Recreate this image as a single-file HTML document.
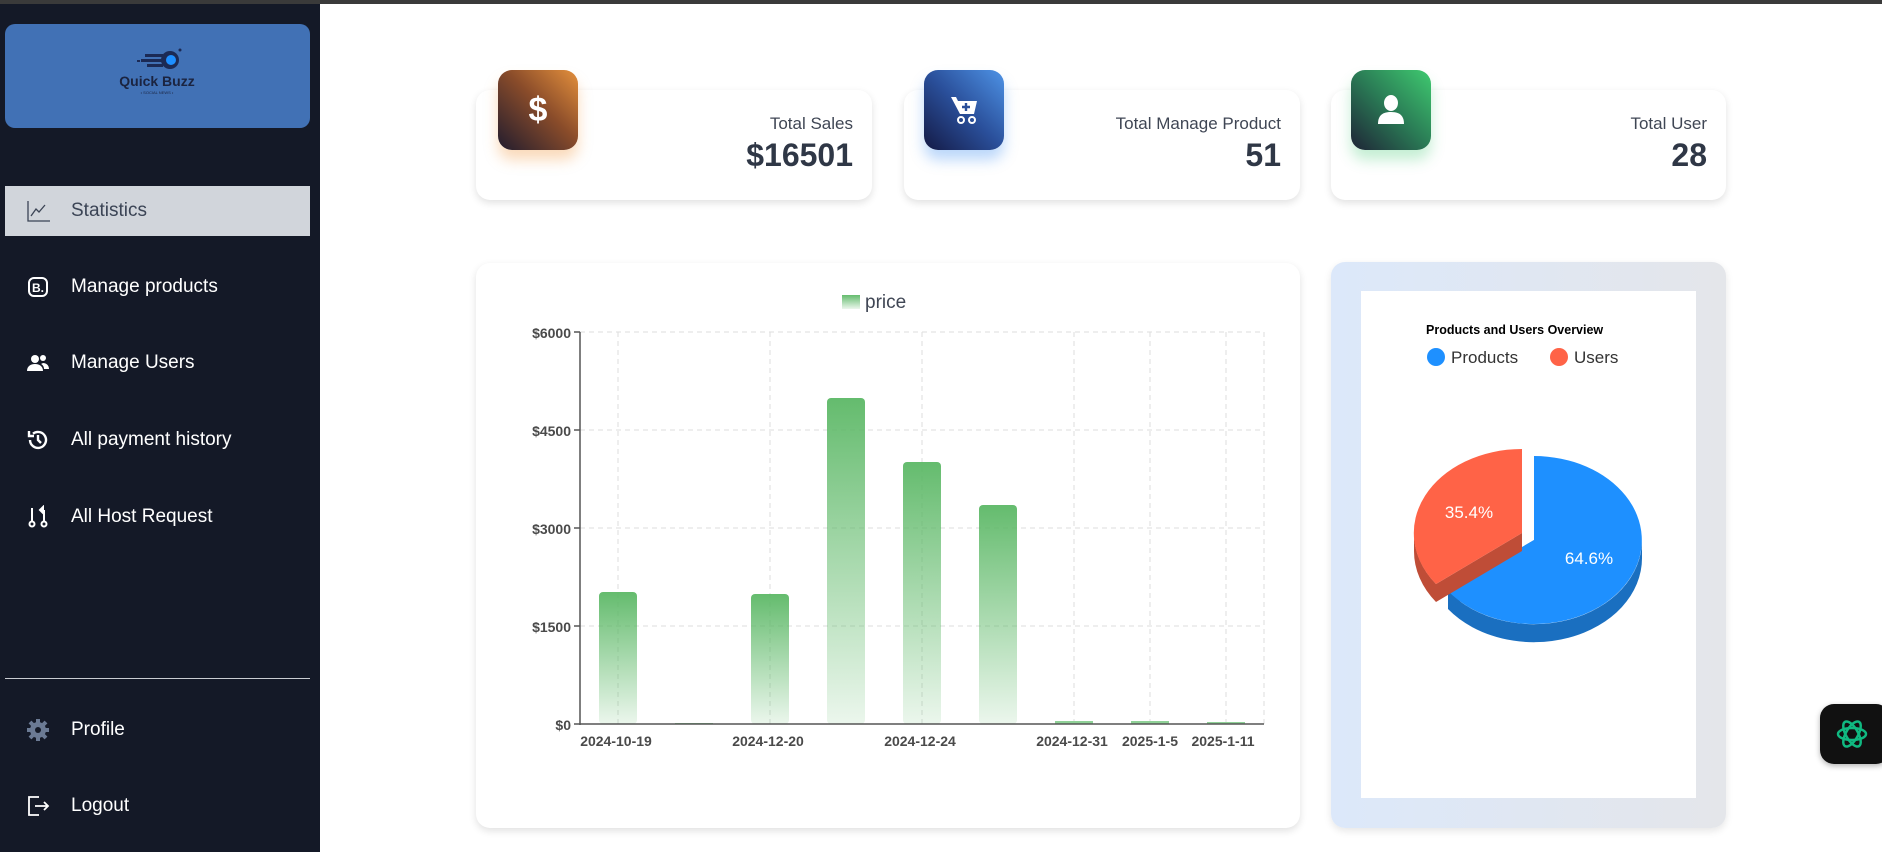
<!DOCTYPE html>
<html><head><meta charset="utf-8"><style>
*{margin:0;padding:0;box-sizing:border-box}
body{width:1882px;height:852px;overflow:hidden;background:#fff;font-family:"Liberation Sans",Arial,sans-serif;position:relative}
.top{position:absolute;left:0;top:0;width:1882px;height:4px;background:#3a3a3a}
.side{position:absolute;left:0;top:4px;width:320px;height:848px;background:#141927}
.logo{position:absolute;left:5px;top:20px;width:305px;height:104px;background:#4171b5;border-radius:10px}
.nav{position:absolute;left:0;width:320px;height:50px;color:#fff;font-size:19px;display:flex;align-items:center}
.nav .ic{position:absolute;left:26px;width:24px;height:24px}
.nav span{position:absolute;left:71px}
.active{left:5px;width:305px;background:#d1d5db;color:#3b4455}
.card{position:absolute;background:#fff;border-radius:14px;box-shadow:0 3px 8px rgba(0,0,0,.12)}
.ibox{position:absolute;width:80px;height:80px;border-radius:14px;display:flex;align-items:center;justify-content:center}
.ct{position:absolute;right:19px;top:24px;font-size:17px;color:#3f4654;text-align:right}
.cn{position:absolute;right:19px;top:47px;font-size:32px;font-weight:bold;color:#2f3746;text-align:right}
</style></head><body>
<div class="top"></div>
<div class="side">
 <div class="logo">
  <svg width="305" height="104" viewBox="0 0 305 104">
   <g fill="#1b2a55"><rect x="140" y="30" width="18" height="3"/><rect x="136" y="35" width="22" height="3"/><rect x="142" y="40" width="16" height="3"/><rect x="132" y="36" width="3" height="2"/></g>
   <circle cx="165" cy="36" r="9" fill="#1b2a55"/><circle cx="166" cy="36" r="5" fill="#1e8fff"/><circle cx="175" cy="26" r="1.5" fill="#1b2a55"/>
   <text x="152" y="62" text-anchor="middle" font-size="14" font-weight="bold" fill="#1b2440" font-family="Liberation Sans">Quick Buzz</text>
   <text x="152" y="70" text-anchor="middle" font-size="4" fill="#1b2440" font-family="Liberation Sans">• SOCIAL NEWS •</text>
  </svg>
 </div>
 <div class="nav active" style="top:182px"><svg class="ic" style="left:21px" viewBox="0 0 24 24" fill="none" stroke="#3b4455" stroke-width="1.3"><path d="M2 2V22H24"/><path d="M5 17L10 10L13 13L19 6"/></svg><span style="left:66px">Statistics</span></div>
 <div class="nav" style="top:258px"><svg class="ic" viewBox="0 0 24 24"><rect x="3" y="3" width="18" height="18" rx="5" fill="none" stroke="#fff" stroke-width="2"/><text x="12" y="17" text-anchor="middle" font-size="12" font-weight="bold" fill="#fff" font-family="Liberation Sans">B.</text></svg><span>Manage products</span></div>
 <div class="nav" style="top:334px"><svg class="ic" viewBox="0 0 24 24" fill="#fff"><circle cx="9" cy="8" r="4"/><path d="M1 20c0-5 4-7 8-7s8 2 8 7z"/><circle cx="17" cy="7" r="3"/><path d="M17 12c3 0 6 2 6 6h-5c0-2-1-4-3-5z"/></svg><span>Manage Users</span></div>
 <div class="nav" style="top:411px"><svg class="ic" viewBox="0 0 24 24" fill="none" stroke="#fff" stroke-width="2.4"><path d="M4 12a8 8 0 1 0 3-6.3"/><path d="M3 3v5h5"/><path d="M12 7v5l3 3"/></svg><span>All payment history</span></div>
 <div class="nav" style="top:488px"><svg class="ic" viewBox="0 0 24 24" fill="none" stroke="#fff" stroke-width="2"><circle cx="6" cy="19" r="2.5"/><circle cx="18" cy="19" r="2.5"/><path d="M6 3v13M18 5v11"/><path d="M14 5l3-3v6z" fill="#fff"/></svg><span>All Host Request</span></div>
 <div style="position:absolute;left:5px;top:674px;width:305px;height:1px;background:#c9ccd2"></div>
 <div class="nav" style="top:701px"><svg class="ic" viewBox="0 0 24 24"><circle cx="12" cy="12" r="8" fill="#6b7a94"/><circle cx="12" cy="12" r="3" fill="#141927"/><g stroke="#6b7a94" stroke-width="4"><path d="M12 1v4M12 19v4M1 12h4M19 12h4M4 4l3 3M17 17l3 3M4 20l3-3M17 7l3-3"/></g></svg><span>Profile</span></div>
 <div class="nav" style="top:777px"><svg class="ic" viewBox="0 0 24 24" fill="none" stroke="#fff" stroke-width="1.8"><path d="M13 3H3V21H13"/><path d="M9 12H22M18 8l4 4-4 4"/></svg><span>Logout</span></div>
</div>

<div class="card" style="left:476px;top:90px;width:396px;height:110px">
 <div class="ct">Total Sales</div><div class="cn">$16501</div></div>
<div class="ibox" style="left:498px;top:70px;background:linear-gradient(225deg,#e4903c,#8a4c2a 45%,#211c2e);box-shadow:0 10px 14px rgba(240,150,60,.35)"><span style="color:#fff;font-size:34px;font-weight:bold">$</span></div>

<div class="card" style="left:904px;top:90px;width:396px;height:110px">
 <div class="ct">Total Manage Product</div><div class="cn">51</div></div>
<div class="ibox" style="left:924px;top:70px;background:linear-gradient(225deg,#4e93e6,#2a4f9a 50%,#141a45);box-shadow:0 10px 14px rgba(60,140,240,.35)">
 <svg width="30" height="32" viewBox="0 0 30 32" fill="#fff"><path d="M2 3h5l2 4h19l-3 13H11z" /><path d="M17 9v8M13 13h8" stroke="#2a4f9a" stroke-width="2.4"/><circle cx="12" cy="26" r="3" fill="none" stroke="#fff" stroke-width="2"/><circle cx="23" cy="26" r="3" fill="none" stroke="#fff" stroke-width="2"/></svg></div>

<div class="card" style="left:1331px;top:90px;width:395px;height:110px">
 <div class="ct">Total User</div><div class="cn">28</div></div>
<div class="ibox" style="left:1351px;top:70px;background:linear-gradient(225deg,#3fca70,#2a7a55 50%,#1e2436);box-shadow:0 10px 14px rgba(60,200,110,.3)">
 <svg width="30" height="32" viewBox="0 0 30 32" fill="#fff"><ellipse cx="15" cy="9" rx="7" ry="8"/><path d="M2 30c0-9 5-12 13-12s13 3 13 12z"/></svg></div>

<div class="card" style="left:476px;top:263px;width:824px;height:565px"></div>
<svg style="position:absolute;left:0;top:0" width="1882" height="852">
 <defs><linearGradient id="g" x1="0" y1="0" x2="0" y2="1"><stop offset="0" stop-color="#5cb866" stop-opacity=".95"/><stop offset="1" stop-color="#5cb866" stop-opacity=".12"/></linearGradient></defs>
 <rect x="842" y="295" width="18" height="14" fill="url(#g)"/>
 <text x="865" y="308" font-size="19" fill="#3f4654" font-family="Liberation Sans">price</text>
 <g stroke="#ddd" stroke-dasharray="5 4" stroke-width="1">
  <line x1="580" y1="332" x2="1264" y2="332"/><line x1="580" y1="430" x2="1264" y2="430"/><line x1="580" y1="528" x2="1264" y2="528"/><line x1="580" y1="626" x2="1264" y2="626"/>
  <line x1="618" y1="332" x2="618" y2="724"/><line x1="770" y1="332" x2="770" y2="724"/><line x1="922" y1="332" x2="922" y2="724"/><line x1="1074" y1="332" x2="1074" y2="724"/><line x1="1150" y1="332" x2="1150" y2="724"/><line x1="1226" y1="332" x2="1226" y2="724"/><line x1="1264" y1="332" x2="1264" y2="724"/>
 </g>
 <g fill="url(#g)">
  <rect x="599" y="592" width="38" height="132" rx="4"/>
  <rect x="675" y="723" width="38" height="1"/>
  <rect x="751" y="594" width="38" height="130" rx="4"/>
  <rect x="827" y="398" width="38" height="326" rx="4"/>
  <rect x="903" y="462" width="38" height="262" rx="4"/>
  <rect x="979" y="505" width="38" height="219" rx="4"/>
  <rect x="1055" y="721" width="38" height="3" fill="#8fd197"/>
  <rect x="1131" y="721" width="38" height="3" fill="#8fd197"/>
  <rect x="1207" y="722" width="38" height="2" fill="#8fd197"/>
 </g>
 <g stroke="#555" stroke-width="1.5"><line x1="580" y1="332" x2="580" y2="725"/><line x1="580" y1="724" x2="1264" y2="724"/>
  <line x1="574" y1="332" x2="580" y2="332"/><line x1="574" y1="430" x2="580" y2="430"/><line x1="574" y1="528" x2="580" y2="528"/><line x1="574" y1="626" x2="580" y2="626"/><line x1="574" y1="724" x2="580" y2="724"/></g>
 <g font-size="14" font-weight="bold" fill="#4a4a4a" font-family="Liberation Sans" text-anchor="end">
  <text x="571" y="338">$6000</text><text x="571" y="436">$4500</text><text x="571" y="534">$3000</text><text x="571" y="632">$1500</text><text x="571" y="730">$0</text></g>
 <g font-size="14" font-weight="bold" fill="#4a4a4a" font-family="Liberation Sans" text-anchor="middle">
  <text x="616" y="746">2024-10-19</text><text x="768" y="746">2024-12-20</text><text x="920" y="746">2024-12-24</text><text x="1072" y="746">2024-12-31</text><text x="1150" y="746">2025-1-5</text><text x="1223" y="746">2025-1-11</text></g>
</svg>

<div style="position:absolute;left:1331px;top:262px;width:395px;height:566px;border-radius:14px;background:linear-gradient(90deg,#dce8fa,#e4e6ea);box-shadow:0 3px 8px rgba(0,0,0,.1)"></div>
<div style="position:absolute;left:1361px;top:291px;width:335px;height:507px;background:#fff"></div>
<svg style="position:absolute;left:0;top:0" width="1882" height="852" font-family="Liberation Sans">
 <text x="1426" y="334" font-size="12.5" font-weight="bold" fill="#000">Products and Users Overview</text>
 <circle cx="1436" cy="357" r="9" fill="#1e90ff"/><text x="1451" y="363" font-size="17" fill="#333">Products</text>
 <circle cx="1559" cy="357" r="9" fill="#ff6347"/><text x="1574" y="363" font-size="17" fill="#333">Users</text>
 <!-- blue side -->
 <path d="M1642 540 A108 84 0 0 1 1448 591 L1448 609 A108 84 0 0 0 1642 558 Z" fill="#1a6fc0"/>
 <path d="M1534 540 L1448 591 L1448 609 L1534 558 Z" fill="#1a6fc0"/>
 <path d="M1534 540 L1534 456 A108 84 0 1 1 1448 591 Z" fill="#1e90ff"/>
 <!-- red -->
 <path d="M1522 533 L1436 584 L1436 602 L1522 551 Z" fill="#bf4d37"/>
 <path d="M1414 533 A108 84 0 0 0 1436 584 L1436 602 A108 84 0 0 1 1414 551 Z" fill="#bf4d37"/>
 <path d="M1522 533 L1436 584 A108 84 0 0 1 1522 449 Z" fill="#ff6347"/>
 <text x="1469" y="518" font-size="17" fill="#fff" text-anchor="middle">35.4%</text>
 <text x="1589" y="564" font-size="17" fill="#fff" text-anchor="middle">64.6%</text>
</svg>

<div style="position:absolute;left:1820px;top:704px;width:70px;height:60px;border-radius:14px;background:#111;box-shadow:0 2px 6px rgba(0,0,0,.3)">
 <svg style="position:absolute;left:12px;top:10px" width="40" height="40" viewBox="0 0 40 40" fill="none" stroke="#10b981" stroke-width="2.5"><ellipse cx="20" cy="20" rx="14" ry="6"/><ellipse cx="20" cy="20" rx="14" ry="6" transform="rotate(60 20 20)"/><ellipse cx="20" cy="20" rx="14" ry="6" transform="rotate(120 20 20)"/></svg>
</div>
</body></html>
